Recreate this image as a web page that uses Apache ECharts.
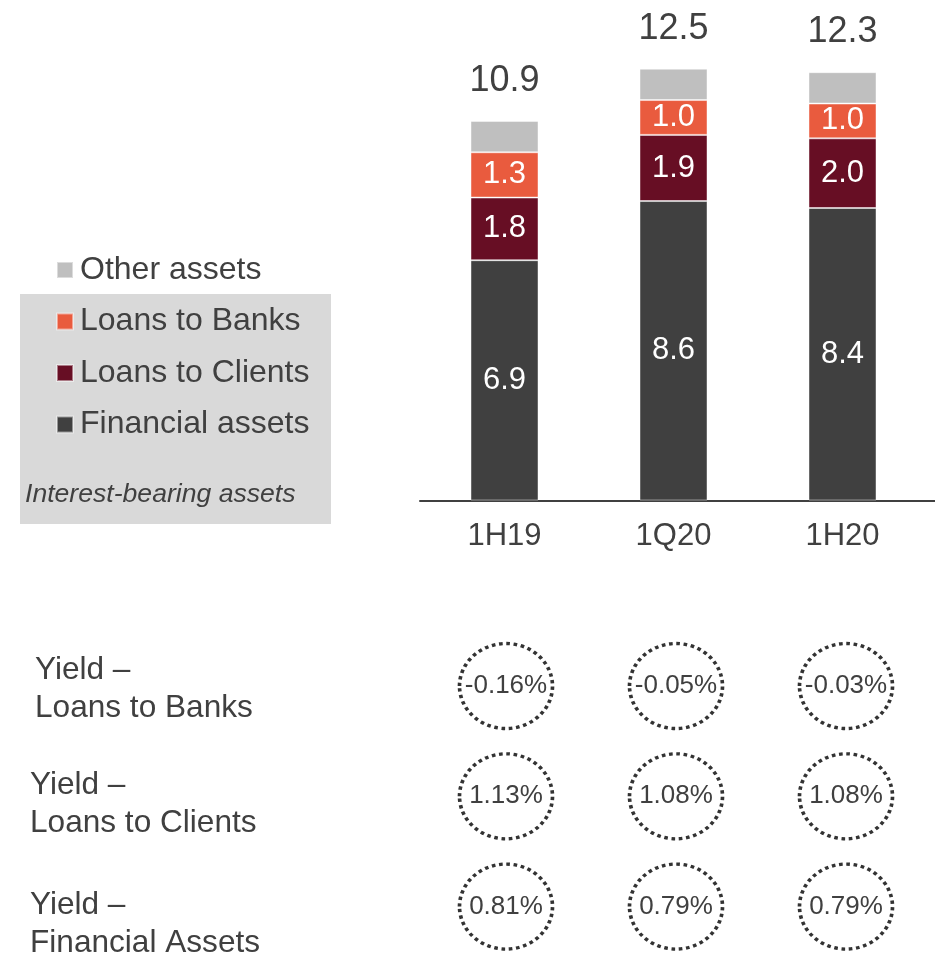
<!DOCTYPE html>
<html>
<head>
<meta charset="utf-8">
<script src="https://cdn.jsdelivr.net/npm/echarts@6/dist/echarts.min.js"></script>
<style>
html,body{margin:0;padding:0;background:#fff;}
#main{width:935px;height:954px;}
</style>
</head>
<body>
<div id="main"></div>
<script>
const categories = ['1H19', '1Q20', '1H20'];
const financialAssets = [6.9, 8.6, 8.4];
const loansToClients = [1.8, 1.9, 2.0];
const loansToBanks = [1.3, 1.0, 1.0];
const otherAssets = [0.9, 0.9, 0.9];
const totals = [10.9, 12.5, 12.3];

const yieldRows = ['Loans to Banks', 'Loans to Clients', 'Financial Assets'];
const yieldRowLabels = ['Yield –\nLoans to Banks', 'Yield –\nLoans to Clients', 'Yield –\nFinancial Assets'];
const yieldBanks = [-0.16, -0.05, -0.03];
const yieldClients = [1.13, 1.08, 1.08];
const yieldFinancial = [0.81, 0.79, 0.79];

const FONT = "'Liberation Sans', Arial, sans-serif";
const TXT = '#404040';
const colors = {
  fin: '#404040',
  cli: '#670e24',
  bank: '#e95b3e',
  other: '#bfbfbf'
};

const chart = echarts.init(document.getElementById('main'), null, {renderer: 'canvas'});

function barSeries(name, data, color, extra) {
  return Object.assign({
    name: name,
    type: 'bar',
    stack: 'total',
    xAxisIndex: 0,
    yAxisIndex: 0,
    barWidth: 68,
    data: data,
    itemStyle: {color: color, borderColor: 'rgba(255,255,255,0.45)', borderWidth: 1},
    label: {
      show: true,
      position: 'inside',
      color: '#ffffff',
      fontSize: 31,
      fontFamily: FONT,
      formatter: p => p.value.toFixed(1)
    },
    emphasis: {disabled: true}
  }, extra || {});
}

const yieldData = [];
[yieldBanks, yieldClients, yieldFinancial].forEach((arr, r) => {
  arr.forEach((v, c) => yieldData.push([c, r, v]));
});

const ellipsePath = 'path://M0,50 A50,50 0 1,1 100,50 A50,50 0 1,1 0,50 Z';

const rowLabelPos = [
  {x: 35, y: 689},
  {x: 30, y: 804},
  {x: 30, y: 924}
];

const option = {
  backgroundColor: '#ffffff',
  animation: false,
  textStyle: {fontFamily: FONT},
  legend: {
    orient: 'vertical',
    left: 56,
    top: 254,
    padding: 0,
    itemGap: 19.5,
    itemWidth: 16,
    itemHeight: 16,
    icon: 'rect',
    selectedMode: false,
    data: ['Other assets', 'Loans to Banks', 'Loans to Clients', 'Financial assets'],
    textStyle: {color: TXT, fontSize: 32, fontFamily: FONT, padding: [0, 0, 0, 2]}
  },
  grid: [
    {left: 420, right: 8, top: 13, bottom: 453.5},
    {left: 421, right: 4, top: 632, bottom: 0}
  ],
  xAxis: [
    {
      type: 'category',
      gridIndex: 0,
      data: categories,
      axisLine: {show: true, lineStyle: {color: TXT, width: 2}},
      axisTick: {show: false},
      axisLabel: {color: TXT, fontSize: 31, fontFamily: FONT, margin: 20}
    },
    {
      type: 'category',
      gridIndex: 1,
      data: categories,
      show: false
    }
  ],
  yAxis: [
    {type: 'value', gridIndex: 0, min: 0, max: 14, show: false},
    {type: 'value', gridIndex: 1, min: -0.49, max: 2.43, inverse: true, show: false}
  ],
  graphic: [
    {
      type: 'rect',
      z: -10,
      shape: {x: 20, y: 294, width: 311, height: 230},
      style: {fill: '#d9d9d9'}
    },
    {
      type: 'line',
      z: 10,
      shape: {x1: 926, y1: 501, x2: 935, y2: 501},
      style: {stroke: TXT, lineWidth: 2}
    },
    {
      type: 'text',
      z: 10,
      style: {
        text: 'Interest-bearing assets',
        x: 25, y: 495,
        font: 'italic 26.6px ' + FONT,
        fill: TXT,
        verticalAlign: 'middle'
      }
    }
  ].concat(yieldRowLabels.map((t, i) => ({
    type: 'text',
    z: 10,
    style: {
      text: t,
      x: rowLabelPos[i].x,
      y: rowLabelPos[i].y,
      font: '31.6px ' + FONT,
      lineHeight: 38,
      fill: TXT,
      verticalAlign: 'middle'
    }
  }))),
  series: [
    barSeries('Financial assets', financialAssets, colors.fin),
    barSeries('Loans to Clients', loansToClients, colors.cli),
    barSeries('Loans to Banks', loansToBanks, colors.bank),
    barSeries('Other assets', otherAssets, colors.other, {
      label: {
        show: true,
        position: 'top',
        distance: 22,
        color: TXT,
        fontSize: 36,
        fontFamily: FONT,
        formatter: p => totals[p.dataIndex].toFixed(1)
      }
    }),
    {
      name: 'Yields',
      type: 'scatter',
      xAxisIndex: 1,
      yAxisIndex: 1,
      symbol: ellipsePath,
      symbolSize: [93, 85],
      data: yieldData,
      itemStyle: {
        color: 'rgba(0,0,0,0)',
        opacity: 1,
        borderColor: '#333333',
        borderWidth: 3.5,
        borderType: [3.5, 3.5]
      },
      label: {
        show: true,
        position: 'inside',
        color: TXT,
        fontSize: 26,
        fontFamily: FONT,
        formatter: p => p.value[2].toFixed(2) + '%'
      },
      emphasis: {disabled: true}
    }
  ]
};

chart.setOption(option);
</script>
</body>
</html>
